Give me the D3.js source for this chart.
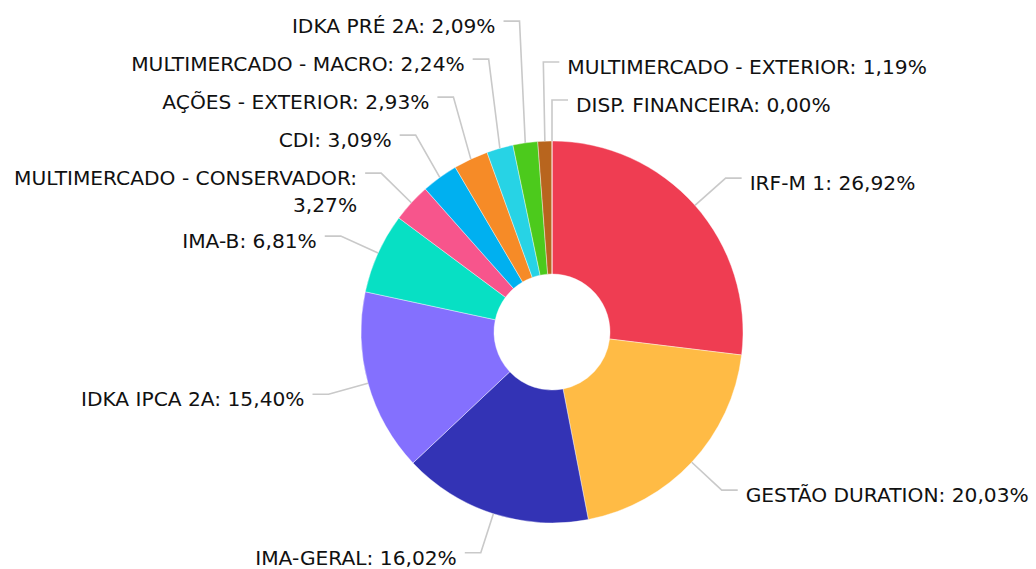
<!DOCTYPE html>
<html>
<head>
<meta charset="utf-8">
<script src="https://cdn.jsdelivr.net/npm/d3@7"></script>
<style>
  html, body { margin: 0; padding: 0; background: #fff; }
  #chart { width: 1036px; height: 569px; }
  .lbl { font-family: "DejaVu Sans", sans-serif; font-size: 20.2px; fill: #111; }
</style>
</head>
<body>
<div id="chart"></div>
<script>
// Chart data (clockwise from 12 o'clock)
const categories = [
    "IRF-M 1", "GESTÃO DURATION", "IMA-GERAL", "IDKA IPCA 2A", "IMA-B",
    "MULTIMERCADO - CONSERVADOR", "CDI", "AÇÕES - EXTERIOR",
    "MULTIMERCADO - MACRO", "IDKA PRÉ 2A", "MULTIMERCADO - EXTERIOR", "DISP. FINANCEIRA"
];
const values = [26.92, 20.03, 16.02, 15.40, 6.81, 3.27, 3.09, 2.93, 2.24, 2.09, 1.19, 0.00];
const palette = [
    "#ef3d52", "#ffbb45", "#3333b5", "#8470fe", "#07e0c4", "#f7558c",
    "#00b0f0", "#f68b27", "#27d3e5", "#4cca1c", "#b8651e", "#7a4a2a"
];

function drawChart() {
    const width = 1036, height = 569;
    const cx = 552, cy = 332;
    const outerR = 191, innerR = 58;
    const elbowOff = 41;      // distance of the leader elbow from the rim
    const hook = 16;          // horizontal part of the leader
    const gap = 8;            // gap between leader and text
    const lineH = 27;         // wrapped text line height
    const spacing = 38;       // min vertical space between label blocks

    const svg = d3.select("#chart")
        .append("svg")
        .attr("width", width)
        .attr("height", height);

    const data = categories.map((c, i) => ({ name: c, value: values[i], color: palette[i] }));

    const pie = d3.pie().sort(null).value(d => d.value);
    const arcs = pie(data);

    const arc = d3.arc().innerRadius(innerR).outerRadius(outerR);

    const g = svg.append("g").attr("transform", `translate(${cx},${cy})`);

    g.selectAll("path.slice")
        .data(arcs)
        .join("path")
        .attr("class", "slice")
        .attr("d", arc)
        .attr("fill", d => d.data.color)
        .attr("stroke", "#fff")
        .attr("stroke-width", 0.4);

    // text measuring helper
    const meas = svg.append("text").attr("class", "lbl").attr("visibility", "hidden");
    const textWidth = s => { meas.text(s); return meas.node().getComputedTextLength(); };

    const fmt = v => d3.format(".2f")(v).replace(".", ",") + "%";

    // build label layout
    const labels = arcs.map(a => {
        const ang = (a.startAngle + a.endAngle) / 2;
        const side = Math.sin(ang) > -0.05 ? 1 : -1;
        const ex = (outerR + elbowOff) * Math.sin(ang);
        const ey = -(outerR + elbowOff) * Math.cos(ang);
        const text = `${a.data.name}: ${fmt(a.data.value)}`;
        const avail = side > 0 ? (width - (cx + ex + hook + gap)) : (cx + ex - hook - gap);
        // greedy wrap
        const words = text.split(" ");
        const lines = [];
        let cur = "";
        words.forEach(w => {
            const t = cur ? cur + " " + w : w;
            if (cur && textWidth(t) > avail) { lines.push(cur); cur = w; }
            else cur = t;
        });
        lines.push(cur);
        const norm = ang > Math.PI ? ang - 2 * Math.PI : ang;
        return {
            ang, side, norm, lines,
            sx: outerR * Math.sin(ang), sy: -outerR * Math.cos(ang),
            ex, ey, y: ey
        };
    });
    meas.remove();

    // resolve overlaps on each side, pushing labels upward
    [1, -1].forEach(side => {
        // top-to-bottom order follows the angle
        const ls = labels.filter(l => l.side === side)
            .sort((a, b) => side > 0 ? a.norm - b.norm : b.ang - a.ang);
        for (let i = ls.length - 2; i >= 0; i--) {
            const maxY = ls[i + 1].y - spacing - (ls[i].lines.length - 1) * (lineH - 2);
            ls[i].y = Math.min(ls[i].ey, maxY);
        }
    });

    // leader lines
    g.selectAll("polyline.leader")
        .data(labels)
        .join("polyline")
        .attr("class", "leader")
        .attr("fill", "none")
        .attr("stroke", "#c9c9c9")
        .attr("stroke-width", 1.6)
        .attr("points", l => [
            [l.sx, l.sy],
            [l.ex, l.y],
            [l.ex + l.side * hook, l.y]
        ].map(p => p.join(",")).join(" "));

    // label text
    const txt = g.selectAll("text.lbl")
        .data(labels)
        .join("text")
        .attr("class", "lbl")
        .attr("text-anchor", l => l.side > 0 ? "start" : "end")
        .attr("x", l => l.ex + l.side * (hook + gap))
        .attr("y", l => l.y + 12);

    txt.each(function(l) {
        const t = d3.select(this);
        const anchorX = l.ex + l.side * (hook + gap);
        l.lines.forEach((s, i) => {
            t.append("tspan")
                .attr("x", anchorX)
                .attr("dy", i === 0 ? 0 : lineH)
                .text(s);
        });
    });
}

document.addEventListener('DOMContentLoaded', drawChart);
</script>
</body>
</html>
